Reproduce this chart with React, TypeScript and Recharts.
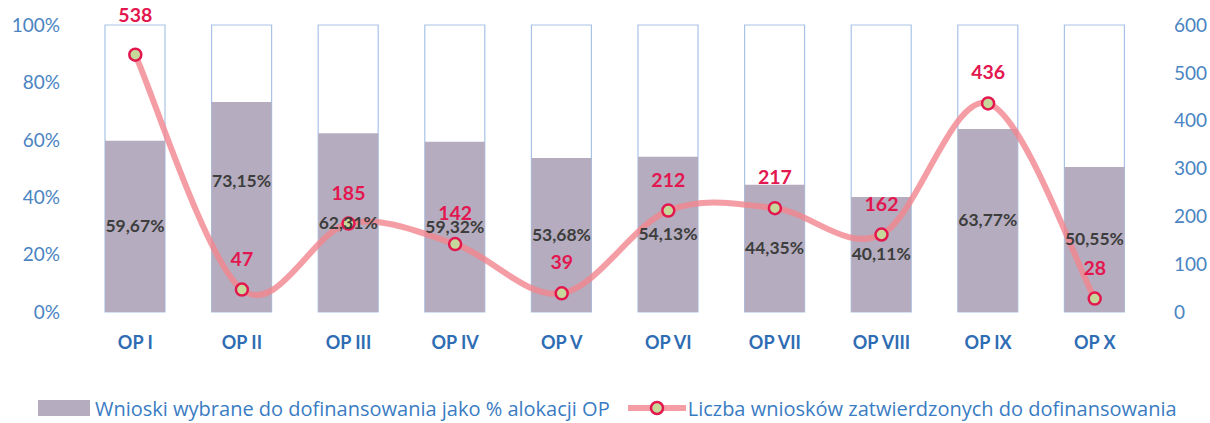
import React from "react";
import {
  ComposedChart,
  Bar,
  Line,
  XAxis,
  YAxis,
  Legend,
  LabelList,
} from "recharts";

const categories = ["OP I", "OP II", "OP III", "OP IV", "OP V", "OP VI", "OP VII", "OP VIII", "OP IX", "OP X"];
const sharePercent = [59.67, 73.15, 62.31, 59.32, 53.68, 54.13, 44.35, 40.11, 63.77, 50.55];
const approvedCount = [538, 47, 185, 142, 39, 212, 217, 162, 436, 28];
const leftTicks = [0, 20, 40, 60, 80, 100];
const rightTicks = [0, 100, 200, 300, 400, 500, 600];

const BAR_NAME = "Wnioski wybrane do dofinansowania jako % alokacji OP";
const LINE_NAME = "Liczba wniosków zatwierdzonych do dofinansowania";

const FONT = "Lato, 'Open Sans', sans-serif";
const BLUE = "#4a84c2";
const BAR_FILL = "#b5adbf";
const BAR_EDGE = "#a8c3e6";
const RED = "#e3174f";
const LINE_PINK = "#f2848f";
const DOT_FILL = "#c6d99b";

const data = categories.map((name, i) => ({
  name,
  share: sharePercent[i],
  count: approvedCount[i],
}));

// Excel-like smoothed line (Catmull-Rom through the points)
function excelSmooth(context: any) {
  let pts: number[][] = [];
  return {
    areaStart() {},
    areaEnd() {},
    lineStart() {
      pts = [];
    },
    point(x: number, y: number) {
      pts.push([+x, +y]);
    },
    lineEnd() {
      if (!pts.length) return;
      context.moveTo(pts[0][0], pts[0][1]);
      for (let i = 0; i < pts.length - 1; i++) {
        const p0 = pts[i - 1] || pts[i];
        const p1 = pts[i];
        const p2 = pts[i + 1];
        const p3 = pts[i + 2] || pts[i + 1];
        context.bezierCurveTo(
          p1[0] + (p2[0] - p0[0]) / 6,
          p1[1] + (p2[1] - p0[1]) / 6,
          p2[0] - (p3[0] - p1[0]) / 6,
          p2[1] - (p3[1] - p1[1]) / 6,
          p2[0],
          p2[1]
        );
      }
    },
  };
}

const XTick = (props: any) => {
  const { x, y, payload } = props;
  return (
    <text x={x} y={y + 29} textAnchor="middle" fill="#2e6db3" fontSize={18} fontWeight={700} fontFamily={FONT}>
      {payload.value}
    </text>
  );
};

const ShareLabel = (props: any) => {
  const { x, y, width, height, value, index } = props;
  const lift = index === 1 ? 26 : 0;
  return (
    <text
      x={x + width / 2}
      y={y + height / 2 - lift}
      dy={6}
      textAnchor="middle"
      fill="#3d3d3d"
      fontSize={17.5}
      fontWeight={700}
      fontFamily={FONT}
    >
      {String(value.toFixed(2)).replace(".", ",")}%
    </text>
  );
};

const CountLabel = (props: any) => {
  const { x, y, value, index } = props;
  const lift = index === 0 ? 9 : 0;
  return (
    <text x={x} y={y - 24 - lift} textAnchor="middle" fill={RED} fontSize={19.5} fontWeight={700} fontFamily={FONT}>
      {value}
    </text>
  );
};

const LegendContent = () => (
  <div
    style={{
      height: 53,
      display: "flex",
      alignItems: "flex-end",
      paddingBottom: 1,
      paddingLeft: 38,
      fontFamily: "'Open Sans', Lato, sans-serif",
      fontSize: 20,
      color: "#3a7cc3",
      boxSizing: "border-box",
      whiteSpace: "nowrap",
    }}
  >
    <svg width={52} height={16} style={{ marginRight: 5, marginBottom: 6 }}>
      <rect x={0} y={0} width={52} height={16} fill={BAR_FILL} />
    </svg>
    <span>{BAR_NAME}</span>
    <svg width={58} height={18} style={{ marginLeft: 18, marginRight: 2, marginBottom: 5 }}>
      <line x1={0} y1={9} x2={58} y2={9} stroke={LINE_PINK} strokeOpacity={0.8} strokeWidth={6} />
      <circle cx={29} cy={9} r={6} fill={DOT_FILL} stroke={RED} strokeWidth={2.5} />
    </svg>
    <span>{LINE_NAME}</span>
  </div>
);

export default function App() {
  return (
    <div style={{ position: "absolute", left: 0, top: 0, width: 1210, height: 423, background: "#fff" }}>
      <ComposedChart width={1210} height={423} data={data} margin={{ top: 25, right: 0, bottom: 0, left: 0 }}>
        <XAxis
          dataKey="name"
          axisLine={false}
          tickLine={false}
          height={58}
          tick={<XTick />}
          interval={0}
        />
        <YAxis
          yAxisId="left"
          domain={[0, 100]}
          ticks={leftTicks}
          width={82}
          axisLine={false}
          tickLine={false}
          tickMargin={16}
          tickFormatter={(v: number) => `${v}%`}
          tick={{ fill: BLUE, fontSize: 19, fontFamily: FONT }}
        />
        <YAxis
          yAxisId="right"
          orientation="right"
          domain={[0, 600]}
          ticks={rightTicks}
          width={62}
          axisLine={false}
          tickLine={false}
          tickMargin={20}
          tick={{ fill: BLUE, fontSize: 19, fontFamily: FONT, textAnchor: "start" }}
        />
        <Legend verticalAlign="bottom" content={<LegendContent />} />
        <Bar
          yAxisId="left"
          dataKey="share"
          name={BAR_NAME}
          fill={BAR_FILL}
          barSize={60}
          background={{ fill: "#fff", stroke: BAR_EDGE, strokeWidth: 1.2 }}
          isAnimationActive={false}
        >
          <LabelList dataKey="share" content={<ShareLabel />} />
        </Bar>
        <Line
          yAxisId="right"
          dataKey="count"
          name={LINE_NAME}
          type={excelSmooth as any}
          stroke={LINE_PINK}
          strokeOpacity={0.8}
          strokeWidth={6}
          dot={{ r: 6, fill: DOT_FILL, stroke: RED, strokeWidth: 2.5, strokeOpacity: 1 }}
          isAnimationActive={false}
        >
          <LabelList dataKey="count" content={<CountLabel />} />
        </Line>
      </ComposedChart>
    </div>
  );
}
